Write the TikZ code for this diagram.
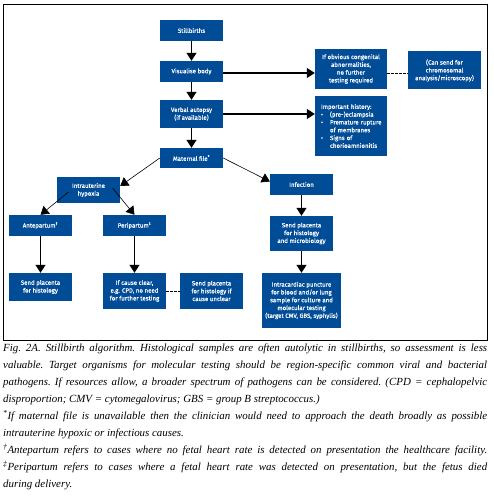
\documentclass[tikz,border=0pt]{standalone}
\usepackage{fontspec}
\setmainfont{Liberation Serif}
\newfontfamily\boxfont[FakeBold=0.5]{Fira Sans}
\usetikzlibrary{arrows.meta}
\definecolor{boxblue}{RGB}{0,76,150}

\begin{document}
\begin{tikzpicture}[x=1pt, y=-1pt, >={Triangle[width=10pt,length=8pt]},
    box/.style={fill=boxblue, text=white, inner sep=1pt, align=center,
        minimum width=63pt, font=\boxfont\fontsize{6.1}{7.8}\selectfont},
    arr/.style={->, line width=1.2pt},
    thinarr/.style={->, line width=0.6pt},
    dashline/.style={dashed, line width=0.8pt, dash pattern=on 2.5pt off 1.5pt}]
    \useasboundingbox (0,0) rectangle (493,500);
    % frame
    \draw[line width=0.9pt] (3,4) rectangle (487,340);
    % main column
    \node[box, minimum height=21pt] (still) at (191.5,30.5) {Stillbirths};
    \node[box, minimum height=21pt] (visual) at (191.5,71.5) {Visualise body};
    \node[box, minimum height=28pt] (verbal) at (191.5,114) {Verbal autopsy\\(if available)};
    \node[box, minimum height=20pt] (maternal) at (191.5,158) {Maternal file\textsuperscript{*}};
    % side boxes
    \node[box, minimum width=72pt, minimum height=40pt] (obvious) at (351,69)
        {If obvious congenital\\abnormalities,\\no further\\testing required};
    \node[box, minimum width=73pt, minimum height=38pt] (cansend) at (444.5,70.5)
        {(Can send for\\chromosomal\\analysis/microscopy)};
    \node[box, minimum width=72pt, minimum height=60pt, text width=64pt, inner xsep=4pt, align=left] (history) at (351,126)
        {\hspace*{2pt}Important history:\\
         \hspace*{2pt}\makebox[9pt][l]{•}(pre-)eclampsia\\
         \hspace*{2pt}\makebox[9pt][l]{•}Premature rupture\\
         \hspace*{2pt}\makebox[9pt][l]{}of membranes\\
         \hspace*{2pt}\makebox[9pt][l]{•}Signs of\\
         \hspace*{2pt}\makebox[9pt][l]{}chorioamnionitis};
    % infection branch
    \node[box, minimum height=21pt] (infection) at (301.5,184.5) {Infection};
    \node[box, minimum height=35pt] (sendmicro) at (301.5,233.5) {Send placenta\\for histology\\and microbiology};
    \node[box, minimum width=79pt, minimum height=55pt] (intracard) at (301.5,300.5)
        {Intracardiac puncture\\for blood and/or lung\\sample for culture and\\molecular testing\\(target CMV, GBS, syphylis)};
    % hypoxia branch
    \node[box, minimum height=26pt] (hypoxia) at (88.5,190) {Intrauterine\\hypoxia};
    \node[box, minimum height=21pt] (ante) at (40.5,225.5) {Antepartum\textsuperscript{†}};
    \node[box, minimum height=21pt] (peri) at (134.5,225.5) {Peripartum\textsuperscript{‡}};
    \node[box, minimum height=28pt] (sendhisto) at (40.5,287) {Send placenta\\for histology};
    \node[box, minimum height=36pt] (clear) at (134.5,291) {If cause clear,\\e.g. CPD, no need\\for further testing};
    \node[box, minimum height=36pt] (unclear) at (211.5,291) {Send placenta\\for histology if\\cause unclear};
    % connectors
    \draw[arr] (still) -- (visual);
    \draw[arr] (visual) -- (verbal);
    \draw[arr] (verbal) -- (maternal);
    \draw[arr] ([yshift=-1.5pt]visual.east) -- ([yshift=-1.5pt]visual.east -| obvious.west);
    \draw[arr] (verbal.east) -- (verbal.east -| history.west);
    \draw[dashline] ([yshift=-4pt]obvious.east) -- ([yshift=-4pt]obvious.east -| cansend.west);
    \draw[thinarr] (maternal.west) -- ([yshift=4pt]hypoxia.east);
    \draw[thinarr] (maternal.east) -- ([yshift=3pt]infection.west);
    \draw[thinarr] ([xshift=-20pt,yshift=-2pt]hypoxia.center) -- (ante.north);
    \draw[thinarr] ([xshift=24pt,yshift=2pt]hypoxia.center) -- (peri.north);
    \draw[arr] (ante) -- (sendhisto);
    \draw[arr] (peri) -- (clear);
    \draw[arr] (infection) -- (sendmicro);
    \draw[arr] (sendmicro) -- (intracard);
    \draw[dashline] (clear) -- (unclear);
    % caption
    \node[anchor=north west, inner sep=0pt, text width=484pt, align=justify,
        font=\itshape\fontsize{10.9}{16.9}\selectfont] (caption) at (3,344)
        {\parindent=0pt\frenchspacing Fig. 2A. Stillbirth algorithm. Histological samples are often autolytic in stillbirths, so assessment is less\linebreak
        valuable. Target organisms for molecular testing should be region-specific common viral and bacterial\linebreak
        pathogens. If resources allow, a broader spectrum of pathogens can be considered. (CPD = cephalopelvic\linebreak
        disproportion; CMV = cytomegalovirus; GBS = group B streptococcus.)\par
        \textsuperscript{*}If maternal file is unavailable then the clinician would need to approach the death broadly as possible\linebreak
        intrauterine hypoxic or infectious causes.\par
        {\parfillskip=0pt \textsuperscript{†}Antepartum refers to cases where no fetal heart rate is detected on presentation the healthcare facility.\par}
        \textsuperscript{‡}Peripartum refers to cases where a fetal heart rate was detected on presentation, but the fetus died\linebreak
        during delivery.};
\end{tikzpicture}
\end{document}
